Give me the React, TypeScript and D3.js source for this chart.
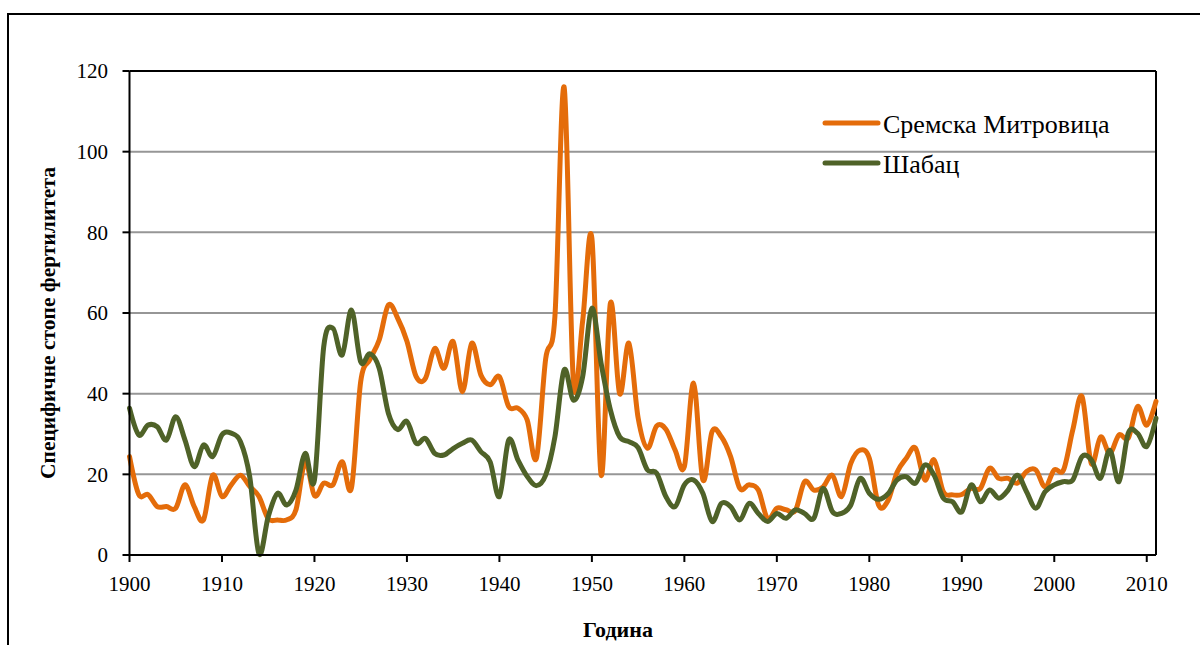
import React from "react";
import * as d3 from "d3";

const years: number[] = d3.range(1900, 2012);

const sremskaMitrovica: number[] = [
  24.4, 15, 15, 12, 12, 11.6, 17.4, 12, 8.7, 19.8,
  14.5, 17.4, 19.8, 17, 14.5, 9, 8.7, 8.7, 11.2, 23.1,
  14.7, 17.8, 17.4, 23.1, 16.6, 43, 48.5, 53.3, 62, 58.7,
  53, 44.2, 43.8, 51.2, 46.3, 52.9, 40.5, 52.5, 44.6, 42.2,
  44.2, 36.8, 36.4, 33.5, 24, 48.6, 59.1, 116, 43, 58,
  78.5, 19.8, 62.4, 40, 52.5, 34, 26.5, 32, 31.2, 26,
  21.9, 42.6, 18.6, 30.6, 29.3, 24.4, 16.5, 17.4, 16.1, 9,
  11.6, 11.2, 11, 18.2, 16.1, 16.9, 19.8, 14.5, 22.7, 26,
  24, 12.4, 13.4, 20.5, 24, 26.5, 18.6, 23.6, 15.7, 14.9,
  15, 16.5, 16.5, 21.5, 19, 19, 17.8, 20.7, 21.1, 16.9,
  21.1, 21.1, 31, 39.3, 22.7, 29.3, 25.2, 29.8, 29, 36.8,
  32.2, 38.1,
];

const sabac: number[] = [
  36.4, 29.8, 32.2, 31.8, 28.5, 34.3, 28.5, 21.9, 27.3, 24.4,
  29.8, 30.2, 28.1, 19.4, 0.3, 9.5, 15.3, 12.4, 16.1, 25.2,
  18.6, 51.6, 56.2, 49.6, 60.7, 47.9, 49.9, 46.3, 35.1, 31.1,
  33.1, 27.7, 28.9, 25.2, 24.8, 26.4, 27.7, 28.5, 25.6, 23.1,
  14.5, 28.5, 23.6, 19.5, 17.2, 19.8, 29.3, 45.9, 38.4, 44.2,
  61.2, 47.5, 36, 29.3, 28.1, 26.6, 21.1, 20.3, 14.5, 12,
  17.4, 18.6, 15.3, 8.3, 12.8, 12, 8.7, 12.8, 10.3, 8.3,
  10.3, 9.1, 11.2, 10.3, 9.1, 16.5, 10.8, 10.3, 12.4, 19,
  15.3, 13.8, 15.1, 18.6, 19.4, 17.8, 22.3, 19.8, 14.1, 13.2,
  10.7, 17.4, 13.2, 16.1, 14.1, 16.1, 19.8, 15.7, 11.6, 15.7,
  17.4, 18.2, 18.6, 24.4, 23.6, 19, 26, 18.2, 30.2, 30.2,
  26.9, 33.9,
];

const xTicks: number[] = [1900, 1910, 1920, 1930, 1940, 1950, 1960, 1970, 1980, 1990, 2000, 2010];
const yTicks: number[] = [0, 20, 40, 60, 80, 100, 120];
const seriesNames: string[] = ["Сремска Митровица", "Шабац"];
const seriesColors: string[] = ["#E46C0A", "#4F6228"];
const xTitle = "Година";
const yTitle = "Специфичне стопе фертилитета";

export default function App() {
  const W = 1200;
  const H = 645;
  const left = 129.5;
  const right = 1156;
  const top = 71;
  const bottom = 555;

  const x = d3.scaleLinear().domain([1900, 2011]).range([left, right]);
  const y = d3.scaleLinear().domain([0, 120]).range([bottom, top]);

  const line = d3
    .line<number>()
    .x((_, i) => x(years[i]))
    .y((d) => y(d))
    .curve(d3.curveCardinal.tension(0));

  const series = [sremskaMitrovica, sabac];
  const font = "'Liberation Serif', 'Times New Roman', serif";

  return (
    <svg
      width={W}
      height={H}
      style={{ position: "absolute", left: 0, top: 0, background: "#fff" }}
      fontFamily={font}
    >
      {/* outer frame */}
      <rect x={8} y={14} width={1300} height={700} fill="none" stroke="#000" strokeWidth={2} />

      {/* gridlines */}
      {yTicks
        .filter((t) => t > 0 && t < 120)
        .map((t) => (
          <line key={"g" + t} x1={left} x2={right} y1={y(t)} y2={y(t)} stroke="#969696" strokeWidth={2} />
        ))}

      {/* plot border */}
      <line x1={left} x2={right} y1={top} y2={top} stroke="#000" strokeWidth={2} />
      <line x1={right} x2={right} y1={top} y2={bottom} stroke="#000" strokeWidth={2} />

      {/* series */}
      {series.map((s, k) => (
        <path
          key={"s" + k}
          d={line(s) || ""}
          fill="none"
          stroke={seriesColors[k]}
          strokeWidth={5}
          strokeLinejoin="round"
          strokeLinecap="round"
        />
      ))}

      {/* axes */}
      <line x1={left} x2={left} y1={top} y2={bottom} stroke="#000" strokeWidth={2} />
      <line x1={left} x2={right} y1={bottom} y2={bottom} stroke="#000" strokeWidth={2} />

      {yTicks.map((t) => (
        <g key={"yt" + t}>
          <line x1={left - 7} x2={left} y1={y(t)} y2={y(t)} stroke="#000" strokeWidth={2} />
          <text x={108} y={y(t)} dy="0.35em" textAnchor="end" fontSize={21} fill="#000">
            {t}
          </text>
        </g>
      ))}

      {xTicks.map((t) => (
        <g key={"xt" + t}>
          <line x1={x(t)} x2={x(t)} y1={bottom} y2={bottom + 7} stroke="#000" strokeWidth={2} />
          <text x={x(t)} y={591} textAnchor="middle" fontSize={21} fill="#000">
            {t}
          </text>
        </g>
      ))}

      {/* axis titles */}
      <text x={618} y={637} textAnchor="middle" fontSize={22} fontWeight="bold" fill="#000">
        {xTitle}
      </text>
      <text
        transform={`translate(55, 323) rotate(-90)`}
        textAnchor="middle"
        fontSize={21.5}
        fontWeight="bold"
        fill="#000"
      >
        {yTitle}
      </text>

      {/* legend */}
      {seriesNames.map((name, k) => {
        const ly = k === 0 ? 123 : 163;
        return (
          <g key={"lg" + k}>
            <line x1={825} x2={878} y1={ly} y2={ly} stroke={seriesColors[k]} strokeWidth={5} strokeLinecap="round" />
            <text x={883} y={ly + 10} fontSize={26} fill="#000">
              {name}
            </text>
          </g>
        );
      })}
    </svg>
  );
}
